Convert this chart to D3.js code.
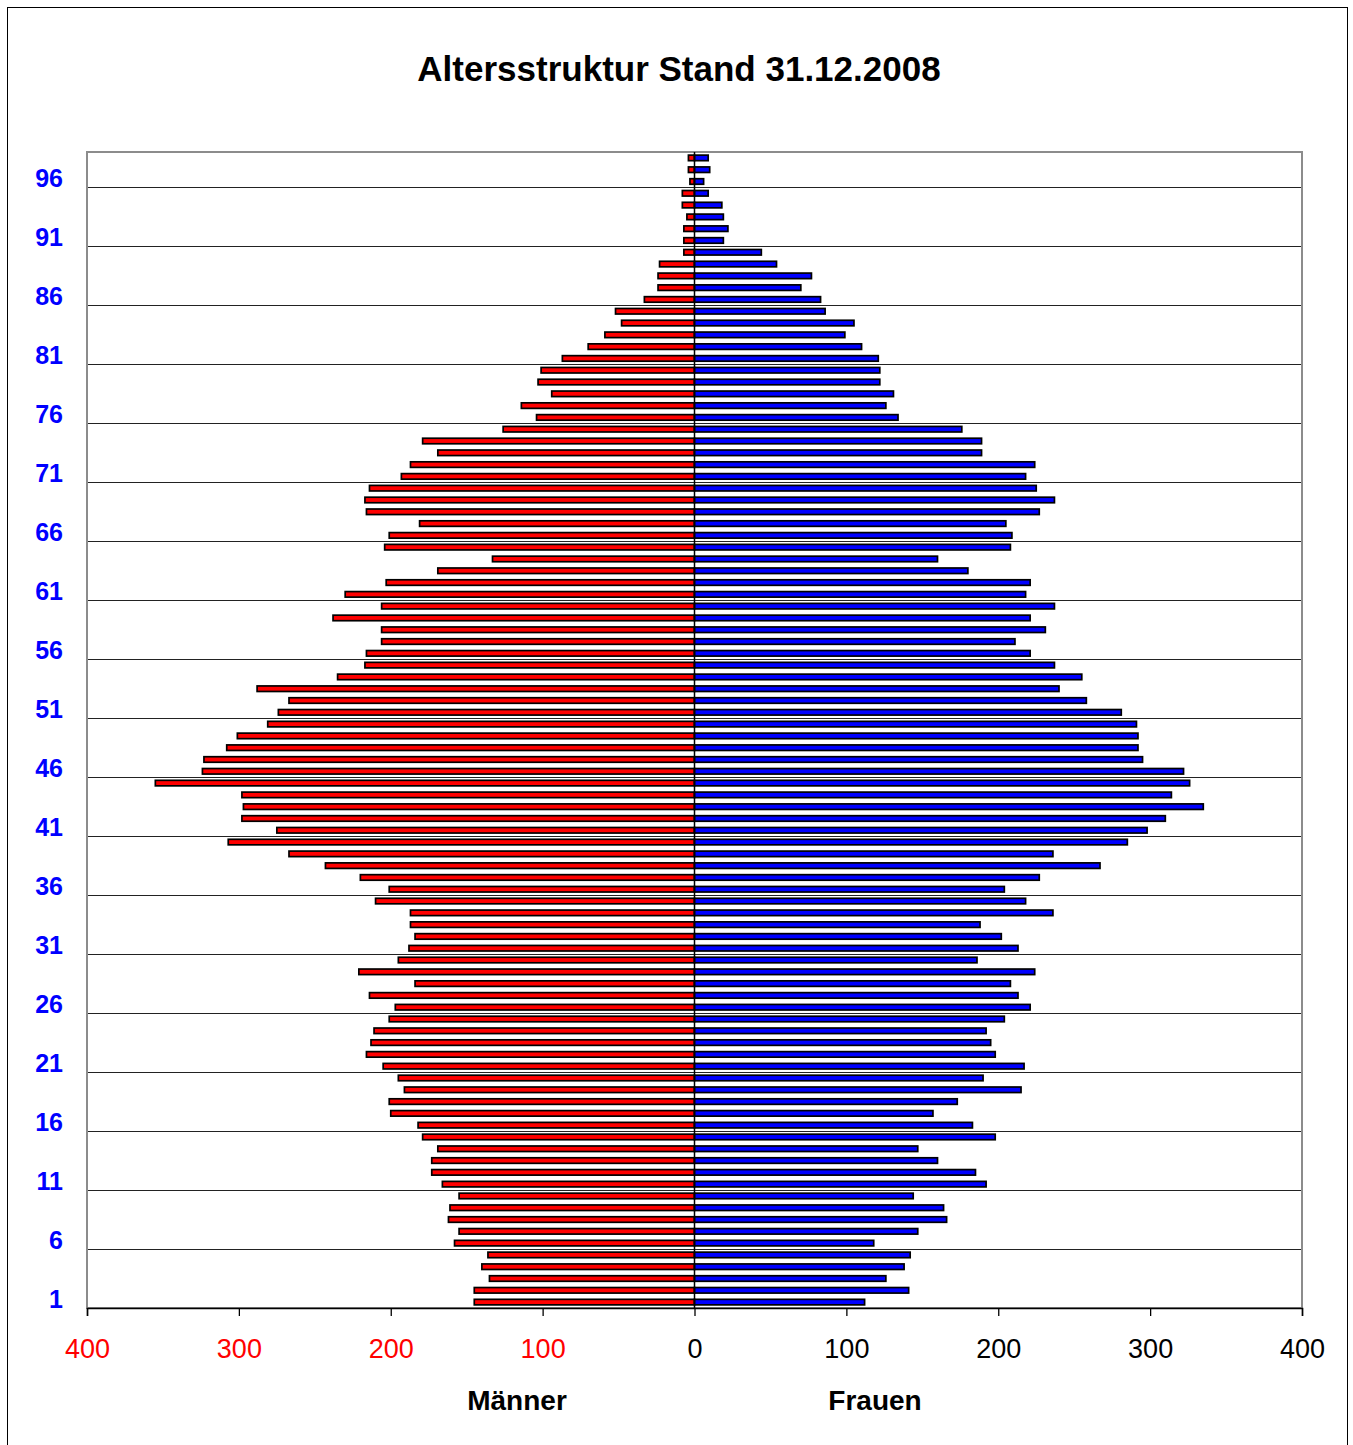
<!DOCTYPE html>
<html>
<head>
<meta charset="utf-8">
<script src="https://cdn.jsdelivr.net/npm/d3@7"></script>
<style>
  body { margin: 0; background: #fff; }
  text { font-family: "Liberation Sans", Arial, sans-serif; }
</style>
</head>
<body>
<div id="chart"></div>
<script>
// ages 1..98, bottom to top
var AGES = d3.range(1, 99);
var MAENNER = [145,145,135,140,136,158,155,162,161,155,
               166,173,173,169,179,182,200,201,191,195,
               205,216,213,211,201,197,214,184,221,195,
               188,184,187,187,210,201,220,243,267,307,
               275,298,297,298,355,324,323,308,301,281,
               274,267,288,235,217,216,206,206,238,206,
               230,203,169,133,204,201,181,216,217,214,
               193,187,169,179,126,104,114,94,103,101,
               87,70,59,48,52,33,24,24,23,7,
               7,7,5,8,8,3,4,4];
var FRAUEN = [112,141,126,138,142,118,147,166,164,144,
              192,185,160,147,198,183,157,173,215,190,
              217,198,195,192,204,221,213,208,224,186,
              213,202,188,236,218,204,227,267,236,285,
              298,310,335,314,326,322,295,292,292,291,
              281,258,240,255,237,221,211,231,221,237,
              218,221,180,160,208,209,205,227,237,225,
              218,224,189,189,176,134,126,131,122,122,
              121,110,99,105,86,83,70,77,54,44,
              19,22,19,18,9,6,10,9];
var AGE_TICKS = [1,6,11,16,21,26,31,36,41,46,51,56,61,66,71,76,81,86,91,96];
var X_TICKS = [-400,-300,-200,-100,0,100,200,300,400];

var W = 1353, H = 1445;
var plot = {left: 87, right: 1302, top: 152, bottom: 1308};

var svg = d3.select("#chart").append("svg")
    .attr("width", W)
    .attr("height", H);

svg.append("rect")
    .attr("x", 7.5).attr("y", 7.5)
    .attr("width", 1340).attr("height", 1450)
    .attr("fill", "#fff")
    .attr("stroke", "#000")
    .attr("stroke-width", 1);

svg.append("text")
    .attr("x", 679).attr("y", 81)
    .attr("text-anchor", "middle")
    .style("font-size", "35px")
    .style("font-weight", "bold")
    .text("Altersstruktur Stand 31.12.2008");

var x = d3.scaleLinear().domain([-400, 400]).range([plot.left, plot.right]);
var y = d3.scaleBand()
    .domain(AGES.slice().reverse())
    .range([plot.top, plot.bottom])
    .paddingInner(0.53)
    .paddingOuter(0.265);

// horizontal grid at the bottom of every 5th age slot
svg.append("g")
    .selectAll("line")
    .data(AGE_TICKS.slice(1))
    .enter().append("line")
    .attr("x1", plot.left).attr("x2", plot.right)
    .attr("y1", function(d) { return Math.round(y(d) + y.bandwidth() / 2 + y.step() / 2) + 0.5; })
    .attr("y2", function(d) { return Math.round(y(d) + y.bandwidth() / 2 + y.step() / 2) + 0.5; })
    .attr("stroke", "#222")
    .attr("stroke-width", 1);

svg.append("rect")
    .attr("x", plot.left).attr("y", plot.top)
    .attr("width", plot.right - plot.left)
    .attr("height", plot.bottom - plot.top)
    .attr("fill", "none")
    .attr("stroke", "#8c8c8c")
    .attr("stroke-width", 2);

var rows = AGES.map(function(a, i) { return {age: a, m: MAENNER[i], f: FRAUEN[i]}; });

svg.append("g").attr("class", "maenner")
    .selectAll("rect")
    .data(rows)
    .enter().append("rect")
    .attr("x", function(d) { return x(-d.m); })
    .attr("y", function(d) { return y(d.age); })
    .attr("width", function(d) { return x(0) - x(-d.m); })
    .attr("height", y.bandwidth())
    .attr("fill", "#ff0000")
    .attr("stroke", "#000")
    .attr("stroke-width", 1.7);

svg.append("g").attr("class", "frauen")
    .selectAll("rect")
    .data(rows)
    .enter().append("rect")
    .attr("x", x(0))
    .attr("y", function(d) { return y(d.age); })
    .attr("width", function(d) { return x(d.f) - x(0); })
    .attr("height", y.bandwidth())
    .attr("fill", "#0000ff")
    .attr("stroke", "#000")
    .attr("stroke-width", 1.7);

// zero line
svg.append("line")
    .attr("x1", x(0)).attr("x2", x(0))
    .attr("y1", plot.top).attr("y2", plot.bottom)
    .attr("stroke", "#000")
    .attr("stroke-width", 1.5);

var xAxis = d3.axisBottom(x)
    .tickValues(X_TICKS)
    .tickSize(8)
    .tickPadding(23)
    .tickFormat(function(d) { return Math.abs(d); });

var gx = svg.append("g")
    .attr("transform", "translate(0," + plot.bottom + ")")
    .call(xAxis);
gx.select(".domain").attr("stroke", "#000").attr("stroke-width", 1.5);
gx.selectAll(".tick line").attr("stroke", "#000").attr("stroke-width", 1.3);
gx.selectAll(".tick text")
    .style("font-size", "27px")
    .style("font-family", "'Liberation Sans', Arial, sans-serif")
    .attr("fill", function(d) { return d < 0 ? "#ff0000" : "#000"; });

var yAxis = d3.axisLeft(y)
    .tickValues(AGE_TICKS)
    .tickSize(0)
    .tickPadding(24);

var gy = svg.append("g")
    .attr("transform", "translate(" + plot.left + ",-2)")
    .call(yAxis);
gy.select(".domain").remove();
gy.selectAll(".tick text")
    .style("font-size", "25px")
    .style("font-weight", "bold")
    .style("font-family", "'Liberation Sans', Arial, sans-serif")
    .attr("fill", "#0000ff");

svg.append("text")
    .attr("x", 517).attr("y", 1410)
    .attr("text-anchor", "middle")
    .style("font-size", "28px")
    .style("font-weight", "bold")
    .text("Männer");

svg.append("text")
    .attr("x", 875).attr("y", 1410)
    .attr("text-anchor", "middle")
    .style("font-size", "28px")
    .style("font-weight", "bold")
    .text("Frauen");
</script>
</body>
</html>
